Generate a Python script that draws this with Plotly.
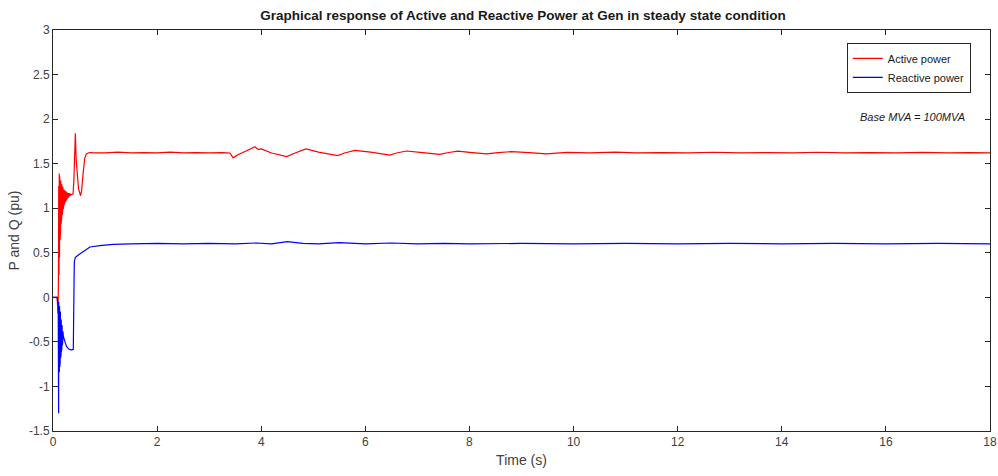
import plotly.graph_objects as go

# Active power (pu) vs time (s)
p_time = [0.000, 0.080, 0.095, 0.105,
          0.110, 0.115, 0.120, 0.125, 0.130, 0.135, 0.140, 0.145, 0.150, 0.155,
          0.160, 0.165, 0.170, 0.175, 0.180, 0.185, 0.190, 0.195, 0.200, 0.205,
          0.210, 0.215, 0.220, 0.225, 0.230, 0.235, 0.240, 0.245, 0.250, 0.255,
          0.260, 0.265, 0.270, 0.275, 0.280, 0.285, 0.290, 0.295, 0.300, 0.305,
          0.310, 0.315, 0.320, 0.325, 0.330, 0.335, 0.340, 0.345,
          0.360, 0.385, 0.400, 0.430, 0.445, 0.460, 0.490, 0.530, 0.550, 0.580,
          0.610, 0.640, 0.700, 0.800, 1.00, 1.25, 1.50, 1.75, 2.00, 2.25, 2.50,
          2.75, 3.00, 3.25, 3.40, 3.46, 3.55, 3.70, 3.88, 3.94, 4.00,
          4.20, 4.49, 4.65, 4.86, 5.10, 5.47, 5.60, 5.80, 6.10, 6.47,
          6.60, 6.79, 7.10, 7.43, 7.60, 7.78, 8.05, 8.33, 8.55, 8.81,
          9.15, 9.48, 9.87, 10.3, 10.8, 11.2, 11.7, 12.2, 12.7, 13.2,
          13.7, 14.2, 14.7, 15.2, 15.7, 16.2, 16.7, 17.2, 17.6, 18.0]
p_vals = [0.00, 0.00, -0.18, 0.20,
          1.25, 0.25, 1.39, 0.45, 1.36, 0.64, 1.33, 0.74, 1.31, 0.82,
          1.29, 0.88, 1.27, 0.92, 1.25, 0.96, 1.24, 0.99, 1.22, 1.02,
          1.21, 1.04, 1.21, 1.06, 1.20, 1.07, 1.20, 1.08, 1.19, 1.09,
          1.19, 1.10, 1.18, 1.11, 1.18, 1.12, 1.17, 1.12, 1.17, 1.13,
          1.17, 1.14, 1.16, 1.14, 1.16, 1.15, 1.16, 1.15,
          1.155, 1.16, 1.30, 1.84, 1.55, 1.40, 1.22, 1.14, 1.20, 1.40,
          1.56, 1.61, 1.625, 1.62, 1.62, 1.63, 1.62, 1.625, 1.62, 1.63, 1.62,
          1.625, 1.62, 1.625, 1.62, 1.565, 1.60, 1.64, 1.69, 1.66, 1.665,
          1.62, 1.58, 1.62, 1.665, 1.63, 1.59, 1.62, 1.65, 1.63, 1.597,
          1.62, 1.642, 1.625, 1.605, 1.625, 1.64, 1.625, 1.61, 1.625, 1.635,
          1.625, 1.61, 1.627, 1.62, 1.63, 1.62, 1.625, 1.62, 1.628, 1.62,
          1.625, 1.62, 1.628, 1.62, 1.625, 1.62, 1.627, 1.62, 1.625, 1.62]

# Reactive power (pu) vs time (s)
q_time = [0.000, 0.080, 0.090, 0.100, 0.108,
          0.110, 0.114, 0.118, 0.122, 0.126, 0.130, 0.134, 0.138, 0.142, 0.146,
          0.150, 0.154, 0.158, 0.162, 0.166, 0.170, 0.174, 0.178, 0.182, 0.186,
          0.190, 0.200, 0.230, 0.260, 0.300, 0.350, 0.390, 0.400, 0.405, 0.410,
          0.430, 0.520, 0.710, 0.900, 1.15, 1.50, 2.00, 2.50, 3.00, 3.50,
          3.90, 4.20, 4.50, 4.80, 5.10, 5.50, 6.00, 6.50, 7.00, 7.50,
          8.00, 9.00, 10.0, 11.0, 12.0, 13.0, 14.0, 15.0, 16.0, 17.0, 18.0]
q_vals = [0.00, 0.00, -0.05, -0.08, -1.30,
          -0.05, -0.90, -0.08, -0.84, -0.10, -0.78, -0.13, -0.73, -0.16, -0.68,
          -0.22, -0.65, -0.25, -0.61, -0.28, -0.57, -0.31, -0.54, -0.34, -0.51,
          -0.38, -0.44, -0.50, -0.55, -0.58, -0.59, -0.585, -0.30, 0.20, 0.40,
          0.45, 0.49, 0.565, 0.58, 0.595, 0.60, 0.605, 0.60, 0.605, 0.60,
          0.61, 0.60, 0.625, 0.605, 0.60, 0.615, 0.60, 0.61, 0.60, 0.605,
          0.60, 0.605, 0.60, 0.605, 0.60, 0.605, 0.60, 0.605, 0.60, 0.605, 0.60]

x_ticks = [0, 2, 4, 6, 8, 10, 12, 14, 16, 18]
y_ticks = [-1.5, -1, -0.5, 0, 0.5, 1, 1.5, 2, 2.5, 3]

fig = go.Figure()
fig.add_trace(go.Scatter(x=p_time, y=p_vals, mode="lines", name="Active power",
                         line=dict(color="#ff0000", width=1.2)))
fig.add_trace(go.Scatter(x=q_time, y=q_vals, mode="lines", name="Reactive power",
                         line=dict(color="#0000ff", width=1.2)))

axis_common = dict(showgrid=False, zeroline=False, showline=True, linecolor="#262626",
                   linewidth=1, mirror="ticks", ticks="inside", ticklen=5,
                   automargin=False,
                   tickcolor="#262626", tickfont=dict(size=12, color="#404040",
                                                      family="Liberation Sans, Arial"))
fig.update_xaxes(range=[0, 18], tickvals=x_ticks, ticktext=[str(v) for v in x_ticks],
                 title=dict(text="Time (s)", font=dict(size=14, color="#404040"), standoff=6),
                 **axis_common)
fig.update_yaxes(range=[-1.5, 3], tickvals=y_ticks, ticktext=[str(v) for v in y_ticks],
                 title=dict(text="P and Q (pu)", font=dict(size=14, color="#404040"), standoff=6),
                 **axis_common)

fig.update_layout(
    width=998, height=476,
    margin=dict(l=53, r=8, t=30, b=45),
    paper_bgcolor="white", plot_bgcolor="white",
    font=dict(family="Liberation Sans, Arial, sans-serif"),
    title=dict(text="<b>Graphical response of Active and Reactive Power at Gen in steady state condition</b>",
               x=0.524, xanchor="center", y=0.9685, yanchor="middle", automargin=False,
               font=dict(size=13.5, color="#1a1a1a", family="Liberation Sans, Arial")),
    legend=dict(x=0.9795, y=0.968, xanchor="right", yanchor="top",
                bgcolor="white", bordercolor="#262626", borderwidth=1,
                font=dict(size=11, color="#1a1a1a"), tracegroupgap=0),
    showlegend=True,
    annotations=[dict(text="<i>Base MVA = 100MVA</i>", xref="paper", yref="paper",
                      x=0.975, y=0.783, xanchor="right", yanchor="middle",
                      showarrow=False, font=dict(size=11, color="#1a1a1a"))],
)

fig.write_html("out.html", config={"displayModeBar": False},
               post_script="document.body.style.margin='0';document.body.style.overflow='hidden';")
